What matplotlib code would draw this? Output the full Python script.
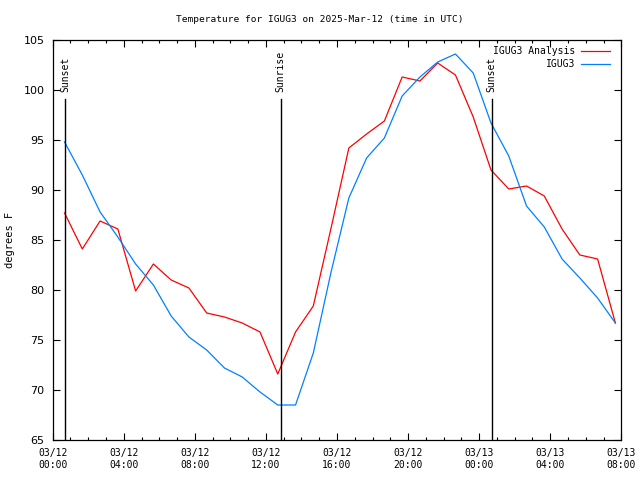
import numpy as np
import pandas as pd
import matplotlib
matplotlib.use("Agg")
import matplotlib.pyplot as plt
import matplotlib.dates as mdates

# hourly observations, starting 00:40 UTC
times = pd.date_range("2025-03-12 00:40", periods=32, freq="h")

analysis = [87.7, 84.1, 86.9, 86.1, 79.9, 82.6, 81.0, 80.2, 77.7, 77.3,
            76.7, 75.8, 71.6, 75.8, 78.4, 86.2, 94.2, 95.6, 96.9, 101.3,
            100.9, 102.7, 101.5, 97.3, 92.0, 90.1, 90.4, 89.4, 86.1, 83.5,
            83.1, 76.7]
igug3 = [94.8, 91.5, 87.8, 85.3, 82.6, 80.5, 77.4, 75.3, 74.0, 72.2,
         71.3, 69.8, 68.5, 68.5, 73.7, 81.8, 89.2, 93.2, 95.2, 99.4,
         101.3, 102.8, 103.6, 101.7, 96.7, 93.4, 88.4, 86.3, 83.1, 81.2,
         79.2, 76.7]

sun_events = [("Sunset", "2025-03-12 00:43"),
              ("Sunrise", "2025-03-12 12:50"),
              ("Sunset", "2025-03-13 00:42")]

mono = "DejaVu Sans Mono"

fig = plt.figure(figsize=(6.4, 4.8), dpi=100)
ax = fig.add_axes([52.7/640, 40/480, (621.3-52.7)/640, 400/480])

ax.plot(times, analysis, color="#ff0000", lw=0.9, label="IGUG3 Analysis")
ax.plot(times, igug3, color="#0080ff", lw=0.9, label="IGUG3")

for name, t in sun_events:
    t = pd.Timestamp(t)
    ax.plot([t, t], [65, 99.1], color="black", lw=1.0)
    ax.text(t, 99.8, name, rotation=90, ha="center", va="bottom",
            family=mono, fontsize=7)

ax.set_xlim(pd.Timestamp("2025-03-12 00:00"), pd.Timestamp("2025-03-13 08:00"))
ax.set_ylim(65, 105)
ax.set_yticks(np.arange(65, 106, 5))

ax.xaxis.set_major_locator(mdates.HourLocator(byhour=range(0, 24, 4)))
ax.xaxis.set_minor_locator(mdates.HourLocator())
ax.xaxis.set_major_formatter(mdates.DateFormatter("%m/%d\n%H:%M"))

ax.tick_params(which="both", direction="in", top=True, right=True, width=0.8)
ax.tick_params(which="major", length=5)
ax.tick_params(which="minor", length=2.5)
ax.tick_params(axis="x", labelsize=7, pad=6)
ax.tick_params(axis="y", labelsize=8, pad=6)
for lab in ax.get_xticklabels():
    lab.set_family(mono)

for s in ax.spines.values():
    s.set_linewidth(0.9)

ax.set_ylabel("degrees F", fontsize=7.5, family=mono)
ax.yaxis.set_label_coords((15 - 52.7) / 568.6, 0.5)
fig.text(0.5, 1 - 20/480, "Temperature for IGUG3 on 2025-Mar-12 (time in UTC)",
         family=mono, fontsize=6.8, ha="center", va="center")

leg = ax.legend(loc="upper right", frameon=False, prop={"family": mono, "size": 7},
                markerfirst=False, handlelength=3.0, handletextpad=0.6,
                labelspacing=0.3, borderaxespad=0.0, borderpad=0.0,
                bbox_to_anchor=(1 - 11/568.6, 1 - 6/400))
for t in leg.get_texts():
    t.set_ha("right")

fig.savefig("out.png", dpi=100)
